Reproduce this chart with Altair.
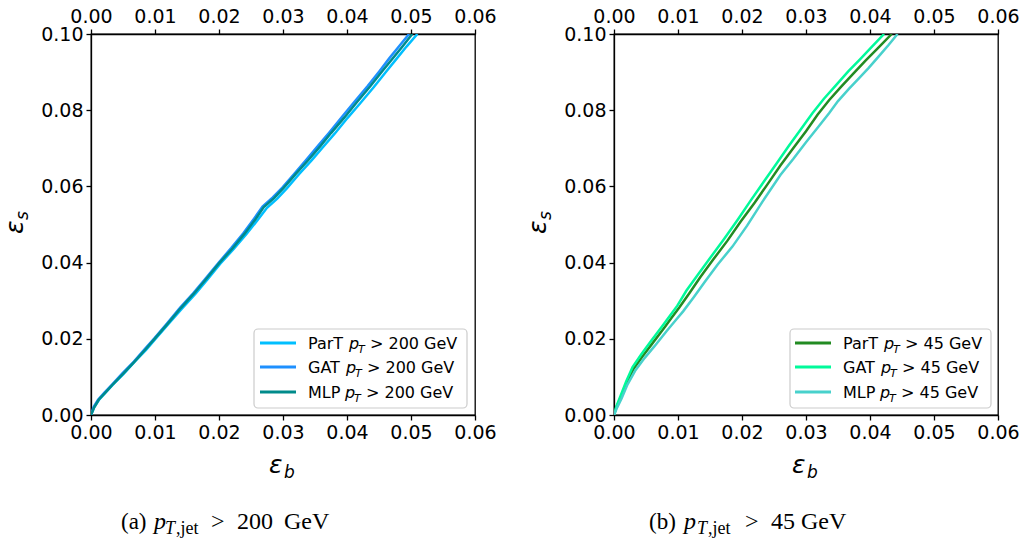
import altair as alt
import pandas as pd

# ---------------- data ----------------
xticks = [0.0, 0.01, 0.02, 0.03, 0.04, 0.05, 0.06]
yticks = [0.0, 0.02, 0.04, 0.06, 0.08, 0.10]

# left panel: pT > 200 GeV
part_l_x = [0, 0.0005, 0.0013, 0.0023, 0.0036, 0.0051, 0.0069, 0.0086, 0.0101, 0.0121, 0.0142, 0.0163, 0.0182, 0.0202, 0.0223, 0.0243, 0.0261, 0.0275, 0.0291, 0.0306, 0.0325, 0.0345, 0.0363, 0.0381, 0.0401, 0.0421, 0.0442, 0.0461, 0.0477, 0.0493, 0.0510]
part_l_y = [0, 0.0020, 0.0041, 0.0059, 0.0083, 0.0108, 0.0141, 0.0171, 0.0200, 0.0239, 0.0279, 0.0318, 0.0356, 0.0397, 0.0436, 0.0475, 0.0513, 0.0544, 0.0568, 0.0595, 0.0632, 0.0669, 0.0704, 0.0739, 0.0780, 0.0819, 0.0861, 0.0901, 0.0934, 0.0967, 0.1000]
gat_l_x = [0, 0.0004, 0.0011, 0.0021, 0.0034, 0.0049, 0.0067, 0.0084, 0.0099, 0.0119, 0.0139, 0.0160, 0.0179, 0.0199, 0.0219, 0.0238, 0.0255, 0.0268, 0.0284, 0.0299, 0.0318, 0.0337, 0.0355, 0.0372, 0.0392, 0.0411, 0.0432, 0.0451, 0.0466, 0.0482, 0.0497]
gat_l_y = [0, 0.0021, 0.0040, 0.0059, 0.0082, 0.0109, 0.0140, 0.0173, 0.0201, 0.0241, 0.0281, 0.0320, 0.0358, 0.0399, 0.0438, 0.0477, 0.0516, 0.0547, 0.0571, 0.0597, 0.0634, 0.0671, 0.0707, 0.0741, 0.0782, 0.0821, 0.0863, 0.0903, 0.0936, 0.0969, 0.1000]
mlp_l_x = [0, 0.0005, 0.0012, 0.0022, 0.0035, 0.0050, 0.0068, 0.0085, 0.0100, 0.0120, 0.0140, 0.0161, 0.0180, 0.0200, 0.0221, 0.0240, 0.0257, 0.0270, 0.0286, 0.0301, 0.0320, 0.0340, 0.0358, 0.0375, 0.0396, 0.0415, 0.0436, 0.0455, 0.0471, 0.0487, 0.0502]
mlp_l_y = [0, 0.0020, 0.0040, 0.0058, 0.0082, 0.0108, 0.0140, 0.0172, 0.0201, 0.0240, 0.0280, 0.0319, 0.0357, 0.0398, 0.0437, 0.0476, 0.0514, 0.0546, 0.0569, 0.0596, 0.0633, 0.0670, 0.0705, 0.0740, 0.0781, 0.0820, 0.0862, 0.0902, 0.0935, 0.0968, 0.1000]

# right panel: pT > 45 GeV
part_r_x = [0, 0.0004, 0.0011, 0.0020, 0.0031, 0.0045, 0.0060, 0.0078, 0.0090, 0.0102, 0.0118, 0.0135, 0.0155, 0.0177, 0.0198, 0.0220, 0.0240, 0.0260, 0.0280, 0.0300, 0.0318, 0.0336, 0.0355, 0.0375, 0.0393, 0.0412, 0.0434]
part_r_y = [0, 0.0022, 0.0048, 0.0085, 0.0122, 0.0155, 0.0188, 0.0228, 0.0255, 0.0282, 0.0320, 0.0362, 0.0408, 0.0457, 0.0508, 0.0558, 0.0606, 0.0655, 0.0700, 0.0745, 0.0788, 0.0826, 0.0862, 0.0898, 0.0930, 0.0962, 0.1000]
gat_r_x = [0, 0.0004, 0.0010, 0.0019, 0.0029, 0.0043, 0.0057, 0.0075, 0.0088, 0.0099, 0.0113, 0.0131, 0.0151, 0.0172, 0.0193, 0.0214, 0.0234, 0.0254, 0.0273, 0.0292, 0.0310, 0.0328, 0.0347, 0.0366, 0.0384, 0.0402, 0.0422]
gat_r_y = [0, 0.0024, 0.0049, 0.0088, 0.0126, 0.0160, 0.0192, 0.0232, 0.0262, 0.0287, 0.0326, 0.0368, 0.0414, 0.0462, 0.0512, 0.0564, 0.0612, 0.0660, 0.0706, 0.0750, 0.0792, 0.0830, 0.0866, 0.0902, 0.0933, 0.0965, 0.1000]
mlp_r_x = [0, 0.0005, 0.0012, 0.0021, 0.0033, 0.0048, 0.0063, 0.0082, 0.0096, 0.0108, 0.0124, 0.0142, 0.0162, 0.0185, 0.0208, 0.0232, 0.0260, 0.0280, 0.0300, 0.0320, 0.0336, 0.0350, 0.0367, 0.0383, 0.0398, 0.0414, 0.0429, 0.0443]
mlp_r_y = [0, 0.0020, 0.0044, 0.0080, 0.0116, 0.0150, 0.0180, 0.0220, 0.0248, 0.0272, 0.0308, 0.0350, 0.0395, 0.0442, 0.0497, 0.0560, 0.0630, 0.0672, 0.0716, 0.0758, 0.0792, 0.0824, 0.0856, 0.0884, 0.0911, 0.0942, 0.0971, 0.1000]

models = ["ParT", "GAT", "MLP"]
colors_l = ["#00BFFF", "#1E90FF", "#008B8B"]
colors_r = ["#228B22", "#00FA9A", "#48D1CC"]

PW, PH = 384, 381
one = pd.DataFrame({"z": [0]})


def xs():
    return alt.Scale(domain=[0, 0.06], nice=False, zero=False)


def ys():
    return alt.Scale(domain=[0, 0.1], nice=False, zero=False)


def ax(orient, values):
    return alt.Axis(orient=orient, values=values, format=".2f", title=None, grid=False,
                    tickSize=5, tickWidth=1.3, tickColor="black", domainColor="black",
                    domainWidth=1.3, labelFont="DejaVu Sans", labelFontSize=19,
                    labelColor="black", labelPadding=3, labelFlush=False, labelOverlap=False)


def txt(x, y, s, size, style="normal", font="DejaVu Sans", angle=0):
    return alt.Chart(one).mark_text(text=s, fontSize=size, fontStyle=style, font=font,
                                    angle=angle, align="left", baseline="alphabetic",
                                    color="black").encode(x=alt.value(x), y=alt.value(y))


def panel(series, colors, thr, box, line_x, name_x, p_offsets, cap):
    layers = []
    df0 = pd.DataFrame({"x": series[0][0], "y": series[0][1]})
    # axes carrier layers (invisible lines): bottom+left, and top
    layers.append(alt.Chart(df0).mark_line(opacity=0).encode(
        x=alt.X("x:Q", scale=xs(), axis=ax("bottom", xticks)),
        y=alt.Y("y:Q", scale=ys(), axis=ax("left", yticks))))
    layers.append(alt.Chart(df0).mark_line(opacity=0).encode(
        x=alt.X("x:Q", scale=xs(), axis=ax("top", xticks)),
        y=alt.Y("y:Q", scale=ys(), axis=None)))
    # invisible anchor (keeps the panel origin fixed)
    layers.append(alt.Chart(one).mark_rect(fill="white").encode(
        x=alt.value(-90), x2=alt.value(-89), y=alt.value(-33), y2=alt.value(-32)))
    for (sx, sy), c in zip(series, colors):
        df = pd.DataFrame({"x": sx, "y": sy, "k": list(range(len(sx)))})
        layers.append(alt.Chart(df).mark_line(color=c, strokeWidth=2.5, clip=True).encode(
            x=alt.X("x:Q", scale=xs(), axis=None),
            y=alt.Y("y:Q", scale=ys(), axis=None),
            order="k:Q"))
    # legend box
    layers.append(alt.Chart(one).mark_rect(fill="white", stroke="#cccccc", strokeWidth=1.2,
                                           cornerRadius=4).encode(
        x=alt.value(box[0]), x2=alt.value(box[1]), y=alt.value(295), y2=alt.value(374)))
    rows = [309, 333, 358]
    for m, c, yy, po in zip(models, colors, rows, p_offsets):
        layers.append(alt.Chart(one).mark_rule(color=c, strokeWidth=3).encode(
            x=alt.value(line_x[0]), x2=alt.value(line_x[1]), y=alt.value(yy)))
        layers.append(txt(name_x, yy + 6, m, 16))
        layers.append(txt(name_x + po, yy + 6, "p", 16, "italic"))
        layers.append(txt(name_x + po + 9, yy + 10, "T", 11, "italic"))
        layers.append(txt(name_x + po + 21, yy + 6, f"> {thr} GeV", 16))
    # axis titles
    layers.append(txt(178, 439, "ε", 25, "italic"))
    layers.append(txt(193, 444, "b", 17, "italic"))
    layers.append(txt(-68, 200, "ε", 25, "italic", angle=270))
    layers.append(txt(-63, 186, "s", 17, "italic", angle=270))
    # caption
    serif = "Liberation Serif"
    cx = cap[0]
    layers.append(txt(cx[0], 495, cap[1], 23, font=serif))
    layers.append(txt(cx[1], 495, "p", 24, "italic", font=serif))
    layers.append(txt(cx[2], 500, "T", 18, "italic", font=serif))
    layers.append(txt(cx[2] + 11, 500, ",jet", 18, font=serif))
    layers.append(txt(cx[3], 495, ">", 24, font=serif))
    layers.append(txt(cx[4], 495, f"{thr}", 24, font=serif))
    layers.append(txt(cx[5], 495, "GeV", 24, font=serif))
    ch = alt.layer(*layers).resolve_axis(x="independent", y="independent")
    return ch.properties(width=PW, height=PH)


left = panel([(part_l_x, part_l_y), (gat_l_x, gat_l_y), (mlp_l_x, mlp_l_y)], colors_l, 200,
             (163, 376), (169, 205), 217, [41, 38, 37],
             ([30, 63, 74, 120, 146, 193], "(a)"))
right = panel([(part_r_x, part_r_y), (gat_r_x, gat_r_y), (mlp_r_x, mlp_r_y)], colors_r, 45,
              (176, 377), (181, 217), 229, [41, 38, 37],
              ([35, 70, 83, 131, 157, 187], "(b)"))

chart = alt.hconcat(left, right, spacing=139, bounds="flush").properties(
    padding=0, background="white"
).configure_view(stroke="black", strokeWidth=1.3)

chart.save("out.html", embed_options={"renderer": "svg", "actions": False})
